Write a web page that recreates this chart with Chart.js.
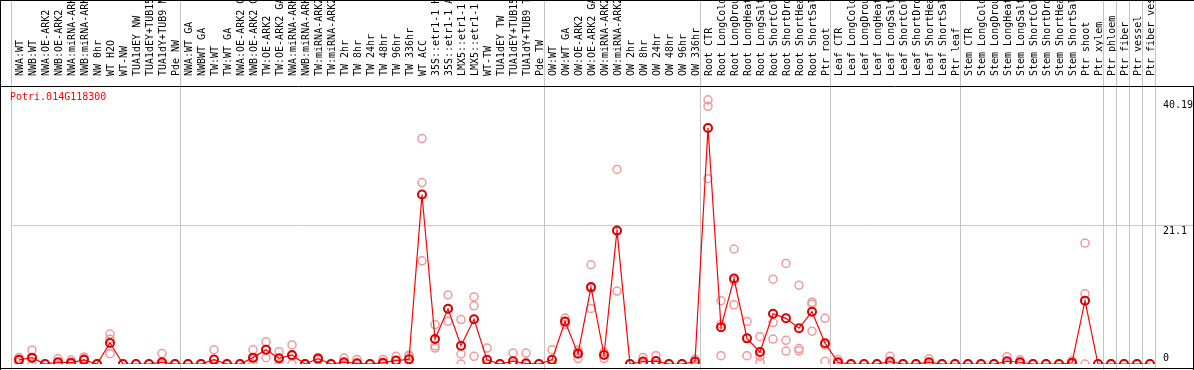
<!DOCTYPE html>
<html>
<head>
<meta charset="utf-8">
<script src="https://cdn.jsdelivr.net/npm/chart.js@4.4.1/dist/chart.umd.min.js"></script>
<style>
  html, body { margin: 0; padding: 0; background: #fff; }
  #wrap { position: relative; width: 1194px; height: 370px; }
  #title {
    position: absolute; left: 10px; top: 91px;
    font: 10px "DejaVu Sans Mono", monospace; color: #ff0000;
    pointer-events: none;
  }
</style>
</head>
<body>
<div id="wrap">
  <canvas id="chart" width="1194" height="370"></canvas>
  <div id="title">Potri.014G118300</div>
</div>
<script>
// sample labels, one array per tissue group
const nwLabels = ["NWA:WT", "NWB:WT", "NWA:OE-ARK2", "NWB:OE-ARK2", "NWA:miRNA-ARK2", "NWB:miRNA-ARK2",
  "NW 0hr", "WT H2O", "WT-NW", "TUA1dEY NW", "TUA1dEY+TUB15 NW", "TUA1dY+TUB9 NW", "Pde NW"];
const twLabels = ["NWA:WT GA", "NWBWT GA", "TW:WT", "TW:WT GA", "NWA:OE-ARK2 GA", "NWB:OE-ARK2 GA",
  "TW:OE-ARK2", "TW:OE-ARK2 GA", "NWA:miRNA-ARK2 GA", "NWB:miRNA-ARK2 GA", "TW:miRNA-ARK2", "TW:miRNA-ARK2 GA",
  "TW 2hr", "TW 8hr", "TW 24hr", "TW 48hr", "TW 96hr", "TW 336hr", "WT ACC",
  "35S::etr1-1 H2O", "35S::etr1-1 ACC", "LMX5::etr1-1 H2O", "LMX5::etr1-1 ACC",
  "WT-TW", "TUA1dEY TW", "TUA1dEY+TUB15 TW", "TUA1dY+TUB9 TW", "Pde TW"];
const owLabels = ["OW:WT", "OW:WT GA", "OW:OE-ARK2", "OW:OE-ARK2 GA", "OW:miRNA-ARK2", "OW:miRNA-ARK2 GA",
  "OW 2hr", "OW 8hr", "OW 24hr", "OW 48hr", "OW 96hr", "OW 336hr"];
const rootLabels = ["Root CTR", "Root LongCold", "Root LongDrought", "Root LongHeat", "Root LongSalt",
  "Root ShortCold", "Root ShortDrought", "Root ShortHeat", "Root ShortSalt", "Ptr root"];
const leafLabels = ["Leaf CTR", "Leaf LongCold", "Leaf LongDrought", "Leaf LongHeat", "Leaf LongSalt",
  "Leaf ShortCold", "Leaf ShortDrought", "Leaf ShortHeat", "Leaf ShortSalt", "Ptr leaf"];
const stemLabels = ["Stem CTR", "Stem LongCold", "Stem LongDrought", "Stem LongHeat", "Stem LongSalt",
  "Stem ShortCold", "Stem ShortDrought", "Stem ShortHeat", "Stem ShortSalt", "Ptr shoot"];
const ptrLabels = ["Ptr xylem", "Ptr phloem", "Ptr fiber", "Ptr vessel", "Ptr fiber vessel"];

// mean expression per sample
const meanExpr = [
  0.63, 0.97, 0, 0.27, 0.2, 0.63, 0, 3.2, 0, 0,
  0, 0.27, 0, 0, 0, 0.67, 0, 0, 0.97, 2.17,
  0.87, 1.37, 0, 0.82, 0, 0.27, 0.1, 0, 0.2, 0.52,
  0.72, 25.8, 3.8, 8.4, 2.77, 6.8, 0.63, 0, 0.42, 0.1,
  0, 0.63, 6.46, 1.57, 11.7, 1.37, 20.3, 0, 0.37, 0.45,
  0, 0, 0.37, 35.9, 5.6, 13.0, 3.9, 1.82, 7.65, 6.95,
  5.45, 7.95, 3.17, 0.27, 0, 0, 0, 0.37, 0, 0,
  0.27, 0, 0, 0, 0, 0, 0.42, 0.27, 0, 0,
  0, 0.18, 9.64, 0, 0, 0, 0, 0
];
// replicates
const rep1 = [
  1.0, 2.1, 0, 0.78, 0.6, 1.07, 0, 4.56, 0, 0,
  0, 1.6, 0, 0, 0, 2.17, 0, 0, 2.17, 3.37,
  1.87, 2.9, 0, 1.0, 0, 0.9, 0.7, 0, 0.7, 1.17,
  1.37, 34.3, 6.0, 10.5, 6.76, 10.2, 2.42, 0, 1.67, 1.67,
  0, 2.17, 7.0, 2.12, 15.1, 1.77, 29.6, 0, 1.0, 1.27,
  0, 0, 0.75, 40.19, 9.64, 17.5, 6.46, 4.15, 12.9, 15.3,
  12.0, 9.4, 6.95, 0.67, 0, 0, 0, 1.17, 0, 0,
  0.78, 0, 0, 0, 0, 0, 1.12, 0.63, 0, 0,
  0, 0.52, 18.4, 0, 0, 0, 0, 0
];
const rep2 = [
  0.6, 0.8, 0, 0, 0, 0.8, 0, 3.77, 0, 0,
  0, 0, 0, 0, 0, 0, 0, 0, 0.7, 2.2,
  0.7, 1.2, 0, 0.8, 0, 0, 0, 0, 0, 0.4,
  1.17, 27.6, 2.77, 8.4, 1.52, 8.85, 0, 0, 0, 0,
  0, 0, 6.4, 1.8, 11.5, 1.5, 20.2, 0, 0.1, 0,
  0, 0, 0.35, 39.2, 6.05, 12.7, 3.9, 1.17, 6.3, 3.6,
  2.35, 9.1, 2.87, 0.15, 0, 0, 0, 0, 0, 0,
  0, 0, 0, 0, 0, 0, 0.15, 0.15, 0, 0,
  0, 0.1, 10.7, 0, 0, 0, 0, 0
];
const rep3 = [
  0.3, 0, 0, 0, 0, 0, 0, 1.57, 0, 0,
  0, 0, 0, 0, 0, 0, 0, 0, 0, 0.97,
  0, 0, 0, 0.6, 0, 0, 0, 0, 0, 0,
  0, 15.7, 2.42, 6.5, 0, 1.17, 0, 0, 0, 0,
  0, 0, 6.0, 0.82, 8.45, 0.82, 11.1, 0, 0, 0,
  0, 0, 0, 28.2, 1.27, 9.0, 1.27, 0.3, 3.8, 1.97,
  2.0, 5.0, 0.4, 0, 0, 0, 0, 0, 0, 0,
  0, 0, 0, 0, 0, 0, 0, 0, 0, 0,
  0, 0, 0, 0, 0, 0, 0, 0
];
const yTicks = [0, 21.1, 40.19];

// where the grey group dividers go (in category units)
const dividers = [-0.65, 12.4, 40.4, 52.4, 62.4, 72.4, 83.4, 84.4, 85.4, 86.4, 87.4];

const labels = [].concat(nwLabels, twLabels, owLabels, rootLabels, leafLabels, stemLabels, ptrLabels);
const mono = { family: "'DejaVu Sans Mono', monospace", size: 10 };

const repSet = (data) => ({
  data: data,
  showLine: false,
  pointRadius: 4,
  pointBorderWidth: 1.5,
  pointBorderColor: "#f09a9a",
  pointBackgroundColor: "rgba(0,0,0,0)",
  order: 1,
});

const framePlugin = {
  id: "frame",
  beforeDatasetsDraw(chart) {
    const ctx = chart.ctx;
    const x = chart.scales.x;
    ctx.save();
    ctx.strokeStyle = "#c4c4c4";
    ctx.lineWidth = 1;
    dividers.forEach((d) => {
      const px = Math.round(x.getPixelForValue(d)) + 0.5;
      ctx.beginPath();
      ctx.moveTo(px, 0);
      ctx.lineTo(px, chart.height);
      ctx.stroke();
    });
    ctx.restore();
  },
  afterDraw(chart) {
    const ctx = chart.ctx;
    const w = chart.width, h = chart.height;
    const top = chart.chartArea.top;
    ctx.save();
    ctx.strokeStyle = "#000";
    ctx.lineWidth = 1;
    ctx.beginPath();
    ctx.moveTo(0, 0.5); ctx.lineTo(w, 0.5);
    ctx.moveTo(0, top + 0.5); ctx.lineTo(w, top + 0.5);
    ctx.moveTo(0, h - 1.5); ctx.lineTo(w, h - 1.5);
    ctx.moveTo(0.5, 0); ctx.lineTo(0.5, h);
    ctx.moveTo(w - 0.5, top); ctx.lineTo(w - 0.5, h);
    ctx.stroke();
    ctx.restore();
  },
};

const isMid = (c) => c.tick && Math.abs(c.tick.value - 21.1) < 0.01;

new Chart(document.getElementById("chart"), {
  type: "line",
  data: {
    labels: labels,
    datasets: [
      {
        label: "mean",
        data: meanExpr,
        borderColor: "#ff0000",
        borderWidth: 1.2,
        pointRadius: 4,
        pointBorderWidth: 2,
        pointBorderColor: "#d80000",
        pointBackgroundColor: "rgba(0,0,0,0)",
        tension: 0,
        order: 0,
      },
      repSet(rep1),
      repSet(rep2),
      repSet(rep3),
    ],
  },
  options: {
    responsive: false,
    animation: false,
    layout: { padding: { left: 12.5, right: 0, top: 0, bottom: 1 } },
    plugins: { legend: { display: false }, tooltip: { enabled: false } },
    scales: {
      x: {
        type: "category",
        position: "top",
        offset: true,
        grid: { display: false },
        border: { display: false },
        ticks: {
          autoSkip: false,
          minRotation: 90,
          maxRotation: 90,
          padding: 2,
          labelOffset: 13,
          color: "#000",
          font: mono,
        },
        afterFit: (scale) => { scale.height = 86; },
      },
      y: {
        position: "right",
        min: 0,
        max: 42.3,
        border: { display: false },
        grid: {
          color: (c) => (isMid(c) ? "#c8c8c8" : "rgba(0,0,0,0)"),
          tickColor: (c) => (isMid(c) ? "#c8c8c8" : "rgba(0,0,0,0)"),
          tickLength: 37.5,
        },
        ticks: {
          padding: -31,
          color: "#000",
          font: mono,
          callback: (v) => (v === 0 ? ["0", ""] : ["", String(v)]),
        },
        afterBuildTicks: (scale) => { scale.ticks = yTicks.map((v) => ({ value: v })); },
        afterFit: (scale) => { scale.width = 37.5; },
      },
    },
  },
  plugins: [framePlugin],
});
</script>
</body>
</html>
